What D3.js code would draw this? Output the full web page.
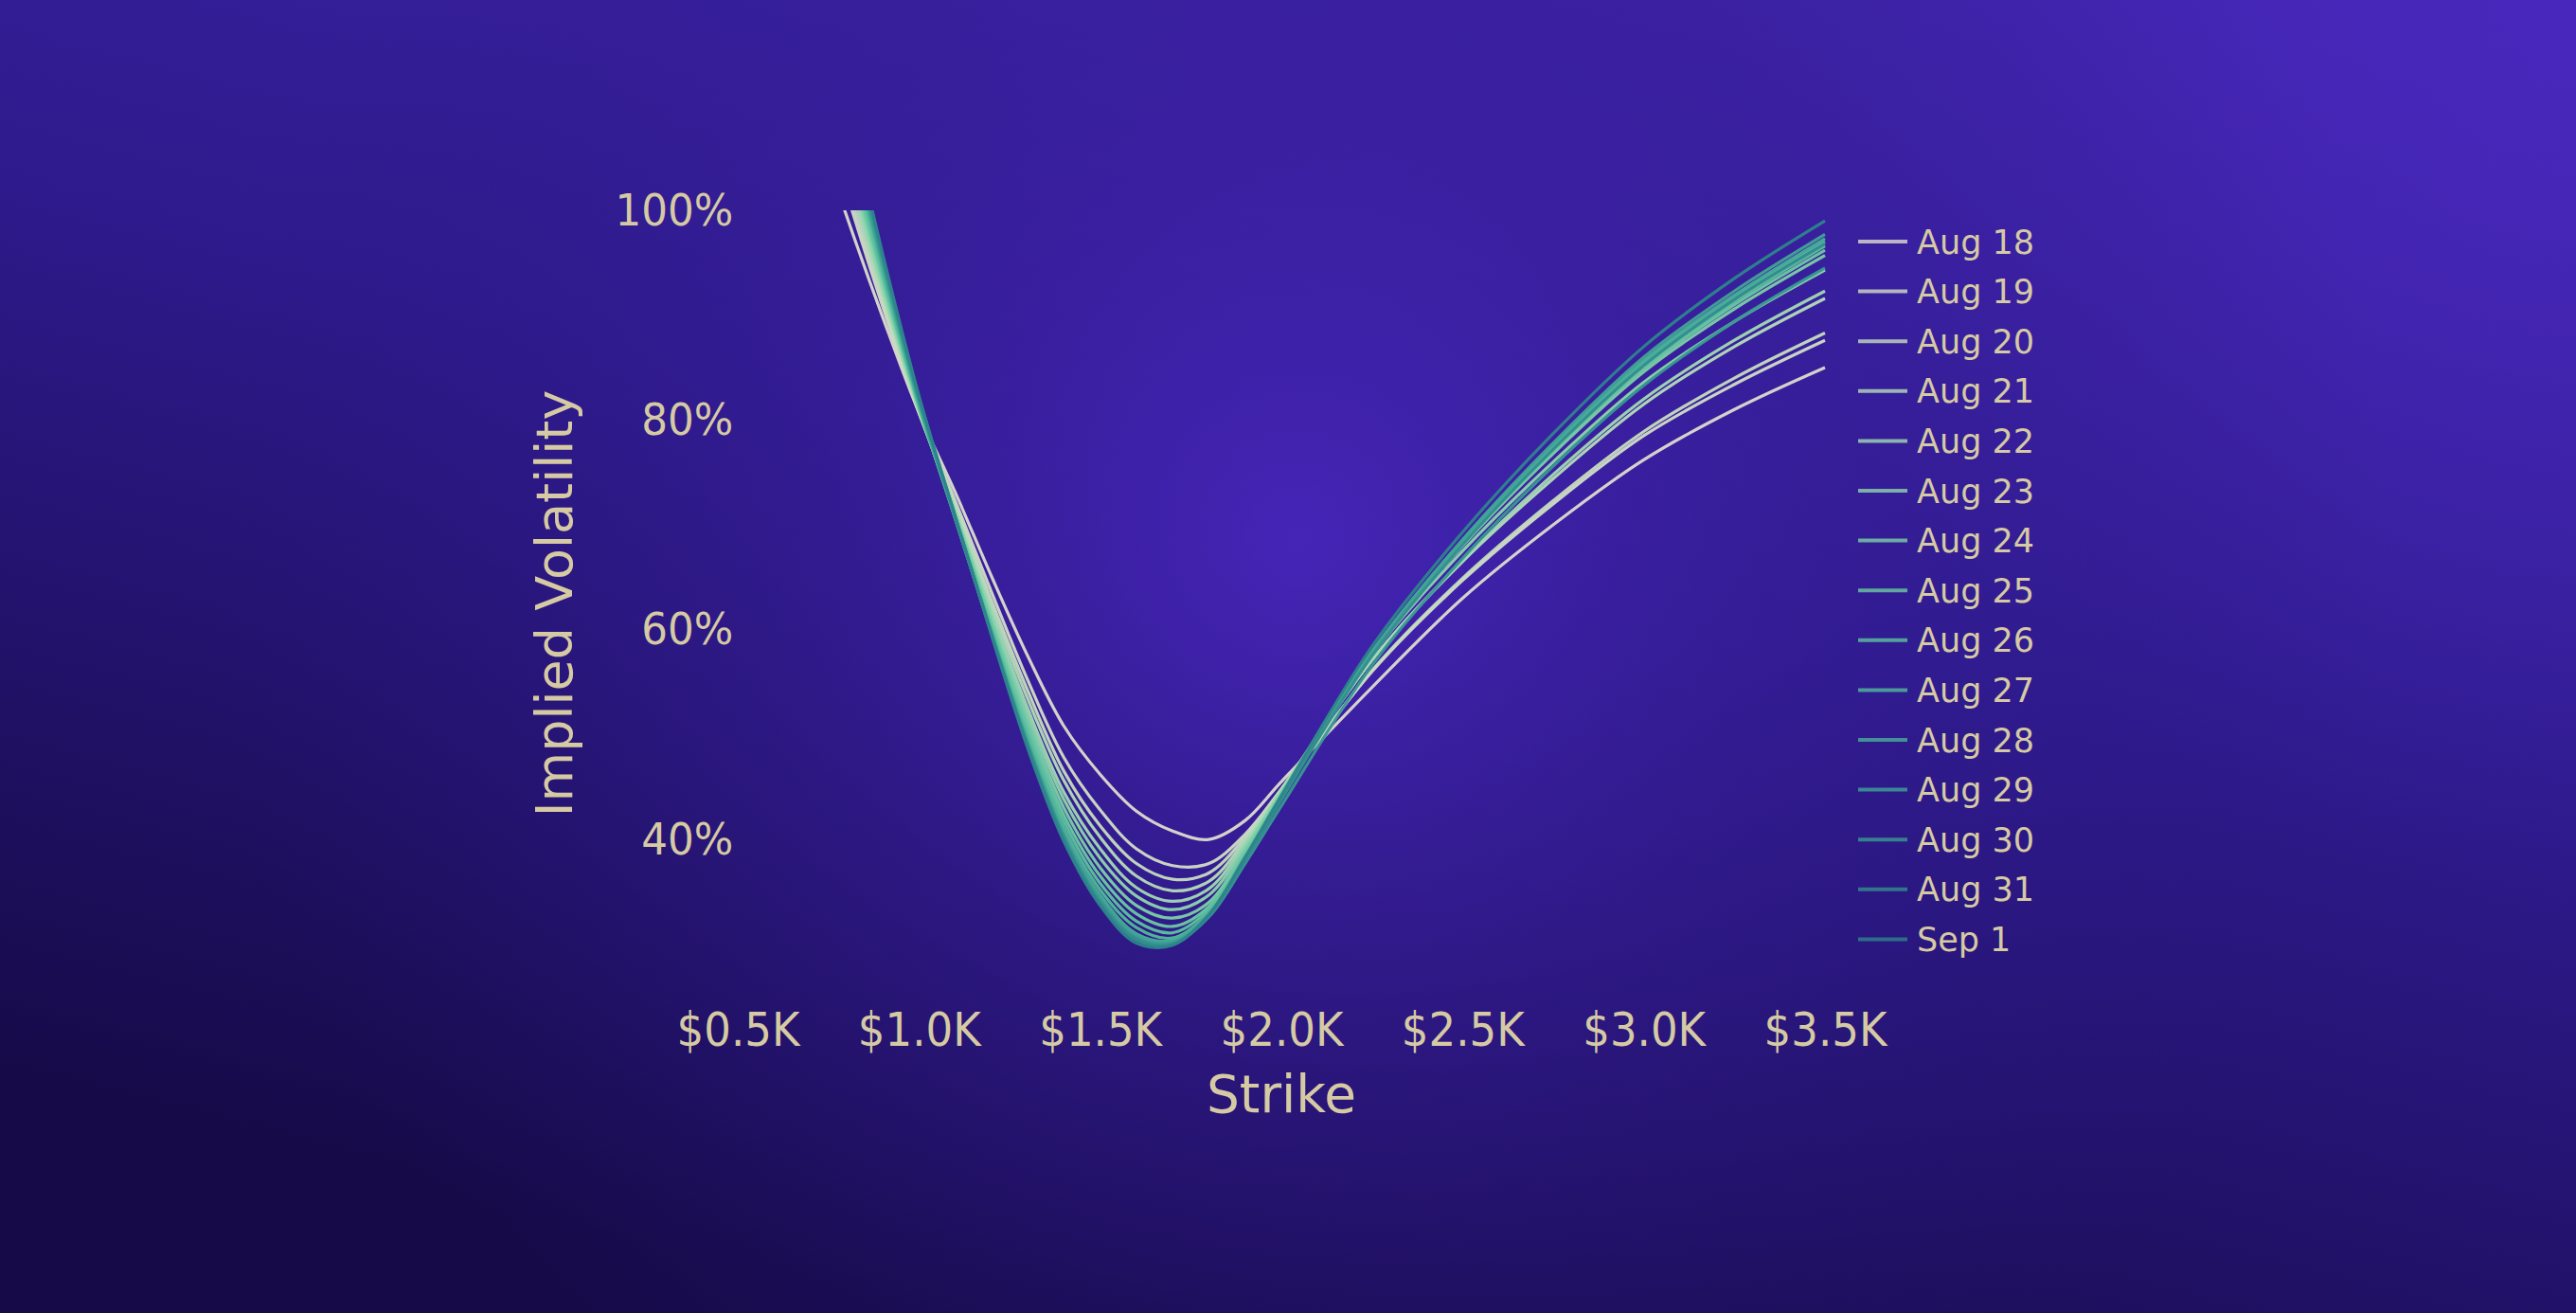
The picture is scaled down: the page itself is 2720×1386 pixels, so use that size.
<!DOCTYPE html>
<html><head><meta charset="utf-8">
<script src="https://cdn.jsdelivr.net/npm/d3@7"></script>
<style>html,body{margin:0;padding:0;background:#2a1680;overflow:hidden}</style>
</head><body>
<svg id="chart" width="2720" height="1386"></svg>
<script>
// ---- data ----
const strikes = [700, 800, 900, 1000, 1100, 1200, 1300, 1400, 1500, 1600, 1700, 1800, 1900, 2000, 2250, 2500, 2750, 3000, 3250, 3500];
const seriesNames = ["Aug 18","Aug 19","Aug 20","Aug 21","Aug 22","Aug 23","Aug 24","Aug 25","Aug 26","Aug 27","Aug 28","Aug 29","Aug 30","Aug 31","Sep 1"];
const seriesColors = ["#dcdccf","#d3dcc8","#c6dcc0","#b5dcba","#a2d9b4","#8fd5ae","#7cd0a8","#6bcaa3","#5dc39f","#52b99c","#48ae99","#40a396","#389892","#328d8f","#2d848c"];
const aug18 = [1.099, .995, .898, .807, .731, .651, .575, .508, .462, .427, .408, .400, .418, .455, .545, .630, .700, .762, .810, .850];
const aug19 = [1.132, 1.017, .908, .807, .723, .636, .552, .478, .428, .391, .375, .377, .405, .448, .560, .647, .720, .785, .834, .876];
const aug20 = [1.147, 1.026, .913, .807, .719, .628, .542, .465, .413, .377, .362, .368, .402, .447, .561, .649, .723, .789, .840, .883];
const aug21 = [1.162, 1.036, .919, .809, .717, .623, .534, .456, .402, .365, .351, .360, .399, .448, .571, .665, .744, .815, .870, .916];
const aug22 = [1.175, 1.045, .923, .809, .713, .617, .525, .445, .391, .354, .341, .353, .396, .446, .571, .666, .748, .820, .876, .923];
const aug23 = [1.186, 1.052, .926, .810, .712, .613, .519, .438, .382, .346, .333, .347, .393, .445, .576, .675, .760, .836, .894, .943];
const aug24 = [1.197, 1.060, .931, .812, .710, .609, .513, .430, .373, .337, .325, .340, .390, .444, .579, .680, .768, .846, .906, .957];
const aug25 = [1.208, 1.068, .936, .814, .709, .606, .507, .423, .365, .329, .317, .336, .387, .442, .578, .681, .771, .849, .910, .962];
const aug26 = [1.215, 1.072, .937, .813, .707, .602, .501, .417, .358, .322, .311, .333, .384, .440, .577, .682, .772, .852, .913, .966];
const aug27 = [1.226, 1.079, .942, .814, .706, .599, .497, .411, .352, .316, .306, .330, .383, .439, .578, .683, .774, .855, .917, .970];
const aug28 = [1.235, 1.085, .946, .816, .706, .597, .493, .406, .347, .310, .304, .329, .382, .439, .578, .685, .776, .857, .919, .973];
const aug29 = [1.240, 1.089, .948, .818, .706, .597, .492, .404, .344, .308, .302, .328, .382, .439, .579, .686, .778, .860, .923, .977];
const aug30 = [1.247, 1.094, .952, .819, .707, .596, .490, .402, .341, .305, .301, .326, .377, .432, .566, .668, .756, .833, .894, .945];
const aug31 = [1.254, 1.100, .956, .822, .708, .596, .489, .401, .339, .304, .300, .328, .381, .438, .575, .681, .772, .852, .915, .968];
const sep1  = [1.260, 1.104, .958, .823, .708, .595, .487, .398, .337, .301, .299, .328, .383, .442, .584, .693, .787, .870, .935, .990];
const seriesValues = [aug18, aug19, aug20, aug21, aug22, aug23, aug24, aug25, aug26, aug27, aug28, aug29, aug30, aug31, sep1];
const xTicks = [500, 1000, 1500, 2000, 2500, 3000, 3500];
const xTickLabels = ["$0.5K","$1.0K","$1.5K","$2.0K","$2.5K","$3.0K","$3.5K"];
const yTicks = [0.4, 0.6, 0.8, 1.0];
const yTickLabels = ["40%","60%","80%","100%"];

// ---- layout ----
const W = 2720, H = 1386;
const plot = {left: 779, right: 1927, top: 222, bottom: 1041};
const textColor = "#d6caa4";
const font = "'DejaVu Sans', Verdana, sans-serif";

const svg = d3.select("#chart");
const defs = svg.append("defs");

// background
const lin = defs.append("linearGradient").attr("id","bgLin")
  .attr("x1","0.85").attr("y1","0").attr("x2","0.35").attr("y2","1");
lin.append("stop").attr("offset","0").attr("stop-color","#4025ad");
lin.append("stop").attr("offset","0.45").attr("stop-color","#2e1a8c");
lin.append("stop").attr("offset","1").attr("stop-color","#160a48");
const corner = defs.append("radialGradient").attr("id","bgCorner")
  .attr("gradientUnits","userSpaceOnUse").attr("cx",2720).attr("cy",0).attr("r",900);
corner.append("stop").attr("offset","0").attr("stop-color","#4a28c0").attr("stop-opacity",0.8);
corner.append("stop").attr("offset","1").attr("stop-color","#4a28c0").attr("stop-opacity",0);
const rad = defs.append("radialGradient").attr("id","bgRad")
  .attr("gradientUnits","userSpaceOnUse").attr("cx",1370).attr("cy",570).attr("r",1150);
rad.append("stop").attr("offset","0").attr("stop-color","#4826bc").attr("stop-opacity",0.9);
rad.append("stop").attr("offset","0.45").attr("stop-color","#3a1fa0").attr("stop-opacity",0.45);
rad.append("stop").attr("offset","1").attr("stop-color","#2a1680").attr("stop-opacity",0);
svg.append("rect").attr("width",W).attr("height",H).attr("fill","url(#bgLin)");
svg.append("rect").attr("width",W).attr("height",H).attr("fill","url(#bgCorner)");
svg.append("rect").attr("width",W).attr("height",H).attr("fill","url(#bgRad)");

defs.append("clipPath").attr("id","plotClip").append("rect")
  .attr("x", plot.left).attr("y", plot.top)
  .attr("width", plot.right - plot.left + 6).attr("height", plot.bottom - plot.top);

// scales
const x = d3.scaleLinear().domain([500, 3500]).range([plot.left, plot.right]);
const y = d3.scaleLinear().domain([0.26, 1.0]).range([plot.bottom, plot.top]);

// lines
const line = d3.line().x((d,i)=>x(strikes[i])).y(d=>y(d)).curve(d3.curveCatmullRom.alpha(0.5));
const gLines = svg.append("g").attr("clip-path","url(#plotClip)");
seriesValues.forEach((vals, k) => {
  gLines.append("path").datum(vals)
    .attr("d", line).attr("fill","none")
    .attr("stroke", seriesColors[k]).attr("stroke-width", 3.2)
    .attr("stroke-opacity", 0.95);
});

// axes
const xAxis = svg.append("g").attr("transform", `translate(0,${plot.bottom})`)
  .call(d3.axisBottom(x).tickValues(xTicks).tickFormat((d,i)=>xTickLabels[i]).tickSize(0).tickPadding(28));
xAxis.select(".domain").remove();
xAxis.selectAll("text").attr("fill", textColor).style("font-family", font).style("font-size","49px")
  .attr("transform","scale(0.92,1)");

const yAxis = svg.append("g").attr("transform", `translate(${plot.left},0)`)
  .call(d3.axisLeft(y).tickValues(yTicks).tickFormat((d,i)=>yTickLabels[i]).tickSize(0).tickPadding(5));
yAxis.select(".domain").remove();
yAxis.selectAll("text").attr("fill", textColor).style("font-family", font).style("font-size","47px")
  .attr("transform","scale(0.93,1)");

// axis titles
svg.append("text").attr("x", 1353).attr("y", 1174).attr("text-anchor","middle")
  .attr("fill", textColor).style("font-family", font).style("font-size","55px").text("Strike");
svg.append("text").attr("transform","translate(604,637) rotate(-90)").attr("text-anchor","middle")
  .attr("fill", textColor).style("font-family", font).style("font-size","54px").text("Implied Volatility");

// legend
const legend = svg.append("g").attr("transform","translate(1962,255)");
seriesNames.forEach((name, k) => {
  const row = legend.append("g").attr("transform", `translate(0,${k*52.6})`);
  row.append("line").attr("x1",0).attr("x2",52).attr("y1",0).attr("y2",0)
    .attr("stroke", seriesColors[k]).attr("stroke-width",4).attr("stroke-opacity",0.8);
  row.append("text").attr("x",62).attr("y",0).attr("dy","0.36em")
    .attr("fill", textColor).style("font-family", font).style("font-size","35px").text(name);
});
</script>
</body></html>
